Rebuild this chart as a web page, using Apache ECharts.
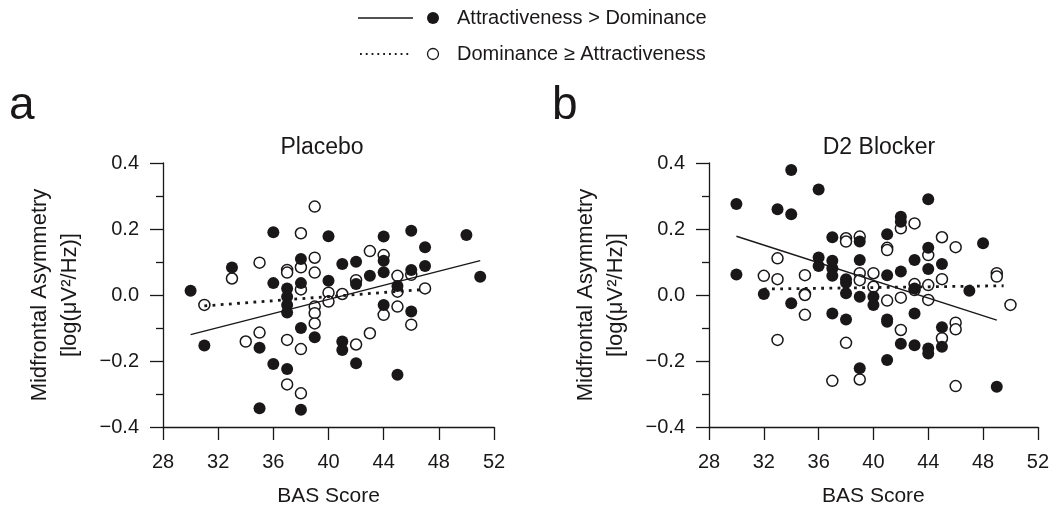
<!DOCTYPE html>
<html><head><meta charset="utf-8">
<script src="https://cdn.jsdelivr.net/npm/echarts@6/dist/echarts.min.js"></script>
<style>html,body{margin:0;padding:0;background:#fff}#c{width:1052px;height:514px}</style>
</head><body><div id="c"></div>
<script>
// ---- data ----
const xTicks = [28, 32, 36, 40, 44, 48, 52];
const yTicks = [-0.4, -0.2, 0.0, 0.2, 0.4];
const panelTitles = ['Placebo', 'D2 Blocker'];
const panelLetters = ['a', 'b'];
const groupNames = ['Attractiveness > Dominance', 'Dominance \u2265 Attractiveness'];
const xName = 'BAS Score';
const yName = 'Midfrontal Asymmetry\n[log(\u03bcV\u00b2/Hz)]';

// Placebo, Attractiveness > Dominance (filled)
const placeboAttr = [
  [30,0.013],[31,-0.153],[33,0.083],[35,-0.160],[35,-0.343],[36,0.190],[36,0.036],[36,-0.209],
  [37,0.020],[37,-0.005],[37,-0.030],[37,-0.053],[37,-0.224],[38,0.109],[38,0.036],[38,-0.100],
  [38,-0.348],[39,-0.128],[40,0.178],[40,0.043],[41,0.094],[41,-0.141],[41,-0.167],[42,0.101],
  [42,0.033],[42,-0.207],[43,0.058],[44,0.177],[44,0.104],[44,0.069],[44,-0.030],[45,0.027],
  [45,-0.242],[46,0.195],[46,0.076],[46,-0.050],[47,0.145],[47,0.088],[50,0.182],[51,0.055]
];
// Placebo, Dominance >= Attractiveness (open)
const placeboDom = [
  [31,-0.030],[33,0.050],[34,-0.141],[35,0.098],[35,-0.114],[37,0.076],[37,0.068],[37,-0.136],
  [37,-0.271],[38,0.187],[38,0.084],[38,0.017],[38,-0.164],[38,-0.298],[39,0.268],[39,0.113],
  [39,0.068],[39,-0.035],[39,-0.055],[39,-0.086],[40,0.007],[40,-0.020],[41,0.003],[42,0.045],
  [42,-0.150],[43,0.133],[43,-0.116],[44,0.121],[44,-0.060],[45,0.058],[45,0.010],[45,-0.035],
  [46,0.061],[46,-0.090],[47,0.020]
];
// D2 Blocker, Attractiveness > Dominance (filled)
const d2Attr = [
  [30,0.276],[30,0.062],[32,0.003],[33,0.260],[34,0.379],[34,0.245],[34,-0.025],[36,0.320],
  [36,0.114],[36,0.088],[37,0.175],[37,0.104],[37,0.081],[37,0.058],[37,-0.056],[38,0.048],
  [38,0.037],[38,0.005],[38,-0.074],[39,0.162],[39,0.106],[39,-0.005],[39,-0.222],[40,-0.005],
  [40,-0.030],[41,0.184],[41,0.060],[41,-0.074],[41,-0.081],[41,-0.197],[42,0.237],[42,0.222],
  [42,0.071],[42,-0.148],[43,0.106],[43,0.020],[43,-0.056],[43,-0.152],[44,0.290],[44,0.143],
  [44,0.079],[44,-0.162],[44,-0.177],[45,0.094],[45,-0.098],[45,-0.157],[47,0.013],[48,0.157],
  [49,-0.278]
];
// D2 Blocker, Dominance >= Attractiveness (open)
const d2Dom = [
  [32,0.058],[33,0.111],[33,0.048],[33,-0.136],[35,0.060],[35,0.003],[35,0.000],[35,-0.060],
  [37,-0.260],[38,0.172],[38,0.162],[38,-0.145],[39,0.177],[39,0.066],[39,0.045],[39,-0.256],
  [40,0.066],[40,0.025],[41,0.143],[41,0.136],[41,-0.017],[42,0.202],[42,-0.008],[42,-0.106],
  [43,0.217],[43,0.033],[43,0.015],[44,0.121],[44,0.030],[44,-0.015],[45,0.175],[45,0.048],
  [45,-0.131],[46,0.145],[46,-0.084],[46,-0.104],[46,-0.276],[49,0.066],[49,0.056],[50,-0.030]
];
// regression line end points
const placeboAttrFit = [[30,-0.120],[51,0.104]];
const placeboDomFit  = [[31,-0.033],[47,0.017]];
const d2AttrFit      = [[30,0.178],[49,-0.076]];
const d2DomFit       = [[32,0.018],[49.5,0.028]];

// ---- styling ----
const FONT = "'Liberation Sans',Arial,sans-serif";
const INK = '#1a1718';
const grids = [
  {left: 163, top: 163, width: 331, height: 264},
  {left: 709, top: 163, width: 330, height: 264}
];
const titleX = [317, 874];
const letterX = [4, 547];

function fmtY(v) {
  const s = Math.abs(v) < 1e-9 ? '0.0' : v.toFixed(1);
  return s.replace('-', '\u2212');
}

const xAxes = grids.map((g, i) => ({
  type: 'value', gridIndex: i,
  min: xTicks[0], max: xTicks[xTicks.length - 1], interval: xTicks[1] - xTicks[0],
  name: xName, nameLocation: 'middle', nameGap: 59,
  nameTextStyle: {fontFamily: FONT, fontSize: 21, color: INK},
  axisLine: {onZero: false, lineStyle: {color: INK, width: 1.3}},
  axisTick: {length: 13, lineStyle: {color: INK, width: 1.3}},
  axisLabel: {margin: 25, fontFamily: FONT, fontSize: 20, color: INK},
  splitLine: {show: false}
}));
const yAxes = grids.map((g, i) => ({
  type: 'value', gridIndex: i,
  min: yTicks[0], max: yTicks[yTicks.length - 1], interval: yTicks[1] - yTicks[0],
  name: yName, nameLocation: 'middle', nameGap: 78, nameRotate: 90,
  nameTextStyle: {fontFamily: FONT, fontSize: 22, color: INK, lineHeight: 30, align: 'center'},
  axisLine: {show: true, onZero: false, lineStyle: {color: INK, width: 1.3}},
  axisTick: {show: true, length: 13, lineStyle: {color: INK, width: 1.3}},
  minorTick: {show: true, splitNumber: 2, length: 7, lineStyle: {color: INK, width: 1.3}},
  axisLabel: {margin: 24, fontFamily: FONT, fontSize: 20, color: INK, formatter: fmtY},
  splitLine: {show: false}, minorSplitLine: {show: false}
}));

const panels = [
  {attr: placeboAttr, dom: placeboDom, attrFit: placeboAttrFit, domFit: placeboDomFit},
  {attr: d2Attr, dom: d2Dom, attrFit: d2AttrFit, domFit: d2DomFit}
];
const series = [];
panels.forEach((p, i) => {
  series.push({
    name: groupNames[1], type: 'scatter', xAxisIndex: i, yAxisIndex: i, data: p.dom,
    symbol: 'circle', symbolSize: 11, z: 2,
    itemStyle: {color: '#fff', borderColor: INK, borderWidth: 1.5, opacity: 1}
  });
  series.push({
    name: groupNames[0], type: 'scatter', xAxisIndex: i, yAxisIndex: i, data: p.attr,
    symbol: 'circle', symbolSize: 12, z: 3,
    itemStyle: {color: INK, opacity: 1}
  });
  series.push({
    type: 'line', xAxisIndex: i, yAxisIndex: i, data: p.attrFit, showSymbol: false, z: 4,
    lineStyle: {color: INK, width: 1.4}
  });
  series.push({
    type: 'line', xAxisIndex: i, yAxisIndex: i, data: p.domFit, showSymbol: false, z: 4,
    lineStyle: {color: INK, width: 2.8, type: [2.8, 5.4], cap: 'butt'}
  });
});

const titles = [];
panelTitles.forEach((t, i) => titles.push({
  text: t, left: titleX[i], top: 131, textAlign: 'center',
  textStyle: {fontFamily: FONT, fontSize: 23, fontWeight: 'normal', color: INK}
}));
panelLetters.forEach((t, i) => titles.push({
  text: t, left: letterX[i], top: 78,
  textStyle: {fontFamily: FONT, fontSize: 46, fontWeight: 'normal', color: INK}
}));

const legendGraphic = [
  {type: 'line', shape: {x1: 358, y1: 18, x2: 413, y2: 18}, style: {stroke: INK, lineWidth: 1.3}},
  {type: 'circle', shape: {cx: 433, cy: 18, r: 6}, style: {fill: INK}},
  {type: 'text', x: 457, y: 18, style: {text: groupNames[0], font: "20px " + FONT, fill: INK, verticalAlign: 'middle'}},
  {type: 'line', shape: {x1: 360, y1: 54, x2: 412, y2: 54}, style: {stroke: INK, lineWidth: 1.8, lineDash: [1.8, 4]}},
  {type: 'circle', shape: {cx: 433, cy: 54, r: 5.5}, style: {fill: '#fff', stroke: INK, lineWidth: 1.3}},
  {type: 'text', x: 457, y: 54, style: {text: groupNames[1], font: "20px " + FONT, fill: INK, verticalAlign: 'middle'}}
];

const chart = echarts.init(document.getElementById('c'), null, {renderer: 'canvas'});
chart.setOption({
  backgroundColor: '#fff',
  animation: false,
  title: titles,
  grid: grids,
  xAxis: xAxes,
  yAxis: yAxes,
  series: series,
  graphic: legendGraphic
});
</script>
</body></html>
